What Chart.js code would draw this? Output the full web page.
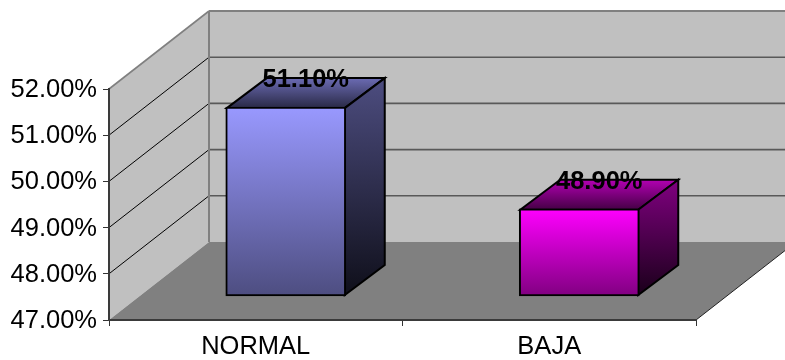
<!DOCTYPE html>
<html>
<head>
<meta charset="utf-8">
<title>NORMAL / BAJA</title>
<script src="https://cdn.jsdelivr.net/npm/chart.js@4/dist/chart.umd.min.js"></script>
<style>
    html, body { margin: 0; padding: 0; background: #fff; }
    canvas { display: block; }
</style>
</head>
<body>
<canvas id="myChart" width="785" height="360"></canvas>
<script>
const categories = ['NORMAL', 'BAJA'];
const values = [51.1, 48.9];
const valueLabels = ['51.10%', '48.90%'];
const yTicks = [47, 48, 49, 50, 51, 52];
const yTickLabels = ['47.00%', '48.00%', '49.00%', '50.00%', '51.00%', '52.00%'];
const barColors = [[153, 153, 255], [255, 0, 255]];

// depth of the fake 3D box, in pixels
const wallDepth = { x: 100, y: -78 };
const barOffset = { x: 30, y: -23.5 };
const barDepth = { x: 40, y: -30 };
const barBorder = 2;

function shade(rgb, k){
    return 'rgb(' + rgb.map((c) => Math.round(c * k)).join(',') + ')';
}

function poly(ctx, pts, fill, stroke, lineWidth){
    ctx.beginPath();
    pts.forEach((p, i) => i == 0 ? ctx.moveTo(p[0], p[1]) : ctx.lineTo(p[0], p[1]));
    ctx.closePath();
    if(fill){
        ctx.fillStyle = fill;
        ctx.fill();
    }
    if(stroke){
        ctx.strokeStyle = stroke;
        ctx.lineWidth = lineWidth;
        ctx.lineJoin = 'miter';
        ctx.stroke();
    }
}

function segment(ctx, x1, y1, x2, y2, color, lineWidth){
    ctx.beginPath();
    ctx.moveTo(x1, y1);
    ctx.lineTo(x2, y2);
    ctx.strokeStyle = color;
    ctx.lineWidth = lineWidth;
    ctx.stroke();
}

// walls, floor and their grid lines
const walls = {
    id: 'walls',
    beforeDraw(chart) {
        const { ctx, chartArea: { left, right, top, bottom }, scales: { y } } = chart;
        const dx = wallDepth.x, dy = wallDepth.y;
        ctx.save();
        poly(ctx, [[left + dx, top + dy], [chart.width + 20, top + dy], [chart.width + 20, bottom + dy], [left + dx, bottom + dy]], '#c0c0c0');
        poly(ctx, [[left, top], [left + dx, top + dy], [left + dx, bottom + dy], [left, bottom]], '#c0c0c0');
        poly(ctx, [[left, bottom], [right, bottom], [right + dx, bottom + dy], [left + dx, bottom + dy]], '#808080');

        yTicks.slice(1, -1).forEach((v) => {
            const py = y.getPixelForValue(v);
            segment(ctx, left, py, left + dx, py + dy, '#000', 1);
            segment(ctx, left + dx, py + dy, chart.width + 20, py + dy, '#595959', 1.6);
        });

        segment(ctx, left, top, left + dx, top + dy, '#808080', 1.6);
        segment(ctx, left + dx, top + dy, chart.width + 20, top + dy, '#808080', 2);
        segment(ctx, left + dx, top + dy, left + dx, bottom + dy, '#808080', 2);
        segment(ctx, right, bottom, right + dx, bottom + dy, '#222', 1);
        ctx.restore();
    },
    beforeDatasetsDraw(chart) {
        const { ctx } = chart;
        const bars = chart.getDatasetMeta(0).data;
        ctx.save();
        ctx.translate(barOffset.x, barOffset.y);

        // top and side faces sit behind the front face chart.js draws,
        // inset by half a border because chart.js strokes bars on the inside
        const inset = barBorder / 2;
        bars.forEach((bar, i) => {
            const l = bar.x - bar.width / 2 + inset, r = bar.x + bar.width / 2 - inset;
            const t = bar.y + inset, b = bar.base - inset;
            const dx = barDepth.x, dy = barDepth.y;
            const c = barColors[i];

            let g = ctx.createLinearGradient(0, t + dy, 0, t);
            g.addColorStop(0, shade(c, 0.7));
            g.addColorStop(1, shade(c, 0.27));
            poly(ctx, [[l, t], [l + dx, t + dy], [r + dx, t + dy], [r, t]], g, '#000', barBorder);

            g = ctx.createLinearGradient(0, t + dy, 0, b);
            g.addColorStop(0, shade(c, 0.5));
            g.addColorStop(1, shade(c, 0.1));
            poly(ctx, [[r, t], [r + dx, t + dy], [r + dx, b + dy], [r, b]], g, '#000', barBorder);
        });
    },
    afterDatasetsDraw(chart) {
        const { ctx } = chart;
        ctx.restore();

        // value labels float over the top face
        ctx.save();
        ctx.font = 'bold 25.5px "Liberation Sans", Arial, sans-serif';
        ctx.fillStyle = '#000';
        ctx.textAlign = 'center';
        ctx.textBaseline = 'alphabetic';
        chart.getDatasetMeta(0).data.forEach((bar, i) => {
            ctx.fillText(valueLabels[i], bar.x + barOffset.x + barDepth.x / 2, bar.y + barOffset.y - 20);
        });
        ctx.restore();
    }
};

const data = {
    labels: categories,
    datasets: [{
        data: values,
        base: yTicks[0],
        barThickness: 120,
        borderColor: '#000',
        borderWidth: barBorder,
        borderSkipped: false,
        clip: false,
        backgroundColor: (context) => {
            const { chart, dataIndex } = context;
            const c = barColors[dataIndex];
            if(!chart.chartArea || dataIndex === undefined) return shade(c || barColors[0], 1);
            const y = chart.scales.y;
            const g = chart.ctx.createLinearGradient(0, y.getPixelForValue(values[dataIndex]), 0, y.bottom);
            g.addColorStop(0, shade(c, 1));
            g.addColorStop(1, shade(c, 0.5));
            return g;
        },
    }],
};

const options = {
    responsive: false,
    animation: false,
    layout: {
        padding: { left: 0, top: 89, right: 89, bottom: 0 },
    },
    plugins: {
        legend: { display: false },
        tooltip: { enabled: false },
    },
    scales: {
        x: {
            offset: true,
            grid: {
                offset: true,
                drawOnChartArea: false,
                color: '#333',
                tickLength: 6,
            },
            border: { color: '#3a3a3a', width: 2 },
            ticks: {
                color: '#000',
                padding: 6,
                maxRotation: 0,
                font: { family: '"Liberation Sans", Arial, sans-serif', size: 25.5 },
            },
            afterFit: (scale) => { scale.height = 40; },
        },
        y: {
            min: yTicks[0],
            max: yTicks[yTicks.length - 1],
            grid: {
                drawOnChartArea: false,
                color: '#333',
                tickLength: 6,
            },
            border: { color: '#3a3a3a', width: 2 },
            ticks: {
                stepSize: 1,
                color: '#000',
                padding: 6,
                labelOffset: 1,
                font: { family: '"Liberation Sans", Arial, sans-serif', size: 25.5 },
                callback: (value, index) => yTickLabels[index],
            },
            afterFit: (scale) => { scale.width = 109; },
        },
    },
};

new Chart(document.getElementById('myChart'), {
    type: 'bar',
    data: data,
    options: options,
    plugins: [walls],
});
</script>
</body>
</html>
